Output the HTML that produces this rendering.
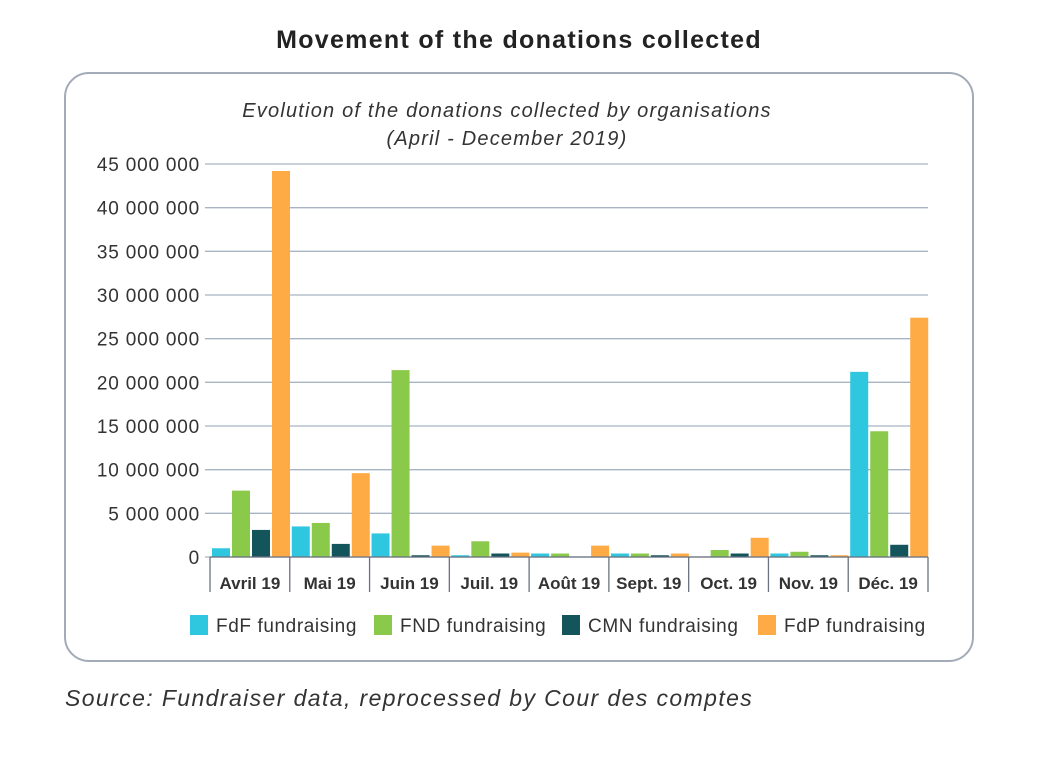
<!DOCTYPE html>
<html><head><meta charset="utf-8"><style>
body{margin:0;background:#fff;width:1048px;height:762px;overflow:hidden;font-family:"Liberation Sans",sans-serif;}
</style></head><body>
<svg width="1048" height="762">
<text x="519" y="48" text-anchor="middle" font-size="25" font-weight="bold" fill="#222" letter-spacing="1.3">Movement of the donations collected</text>
<rect x="65" y="73" width="908" height="588" rx="24" fill="#fff" stroke="#a3abb9" stroke-width="2"/>
<text x="507" y="117" text-anchor="middle" font-size="20" font-style="italic" fill="#333" letter-spacing="1.2">Evolution of the donations collected by organisations</text>
<text x="507" y="145" text-anchor="middle" font-size="20" font-style="italic" fill="#333" letter-spacing="1.2">(April - December 2019)</text>
<g id="grid"></g><g id="bars"></g><g id="xaxis"></g>
<g font-size="19" fill="#333" letter-spacing="0.6">
<rect x="190" y="615" width="18" height="20" fill="#2fc6e0"/>
<text x="216" y="632">FdF fundraising</text>
<rect x="374" y="615" width="18" height="20" fill="#8bc94b"/>
<text x="400" y="632">FND fundraising</text>
<rect x="562" y="615" width="18" height="20" fill="#14555c"/>
<text x="588" y="632">CMN fundraising</text>
<rect x="758" y="615" width="18" height="20" fill="#ffab45"/>
<text x="784" y="632">FdP fundraising</text>
</g>
<text x="65" y="706" font-size="23" font-style="italic" fill="#333" letter-spacing="1.4">Source: Fundraiser data, reprocessed by Cour des comptes</text>
</svg>
<script>
const categories=["Avril 19","Mai 19","Juin 19","Juil. 19","Août 19","Sept. 19","Oct. 19","Nov. 19","Déc. 19"];
const fdf=[1.0,3.5,2.7,0.2,0.4,0.4,0,0.4,21.2];
const fnd=[7.6,3.9,21.4,1.8,0.4,0.4,0.8,0.6,14.4];
const cmn=[3.1,1.5,0.2,0.4,0,0.2,0.4,0.2,1.4];
const fdp=[44.2,9.6,1.3,0.5,1.3,0.4,2.2,0.2,27.4];
const yTicks=[0,5,10,15,20,25,30,35,40,45];
const yTickLabels=["0","5 000 000","10 000 000","15 000 000","20 000 000","25 000 000","30 000 000","35 000 000","40 000 000","45 000 000"];
const seriesNames=["fdf","fnd","cmn","fdp"];
const colors=["#2fc6e0","#8bc94b","#14555c","#ffab45"];
const NS="http://www.w3.org/2000/svg";
const x0=210,x1=928,y0=557,yTop=164,yMax=45;
const gw=(x1-x0)/categories.length;
const y=v=>y0-v/yMax*(y0-yTop);
function mk(tag,attrs,parent){const e=document.createElementNS(NS,tag);for(const k in attrs)e.setAttribute(k,attrs[k]);parent.appendChild(e);return e;}
const grid=document.getElementById('grid'),bars=document.getElementById('bars'),xa=document.getElementById('xaxis');
yTicks.forEach((t,i)=>{
 const l=mk('line',{x1:205,x2:x1,y1:y(t),y2:y(t),stroke:'#a8b3c4','stroke-width':1.3},grid);
 
 
 const tx=mk('text',{x:200,y:y(t)+7,'text-anchor':'end','font-size':19,fill:'#333','letter-spacing':0.8},grid);
 tx.textContent=yTickLabels[i];
 
 
});
const all=[fdf,fnd,cmn,fdp];
categories.forEach((c,i)=>{
 const gx=x0+i*gw;
 all.forEach((s,j)=>{
  const v=s[i];
  const r=mk('rect',{x:gx+2+j*20,y:y(v),width:18,height:Math.max(0,y0-y(v)),fill:colors[j]},bars);
  
  
 });
 const t=mk('text',{x:gx+gw/2,y:589,'text-anchor':'middle','font-size':17,'font-weight':'bold',fill:'#333'},xa);
 t.textContent=c;
 
 
});
for(let i=0;i<=categories.length;i++){
 const l=mk('line',{x1:x0+i*gw,x2:x0+i*gw,y1:y0,y2:592,stroke:'#6a7280','stroke-width':1.3},xa);
 
 
}
const base=mk('line',{x1:x0,x2:x1,y1:y0,y2:y0,stroke:'#6a7280','stroke-width':1.3},xa);


</script>
</body></html>
